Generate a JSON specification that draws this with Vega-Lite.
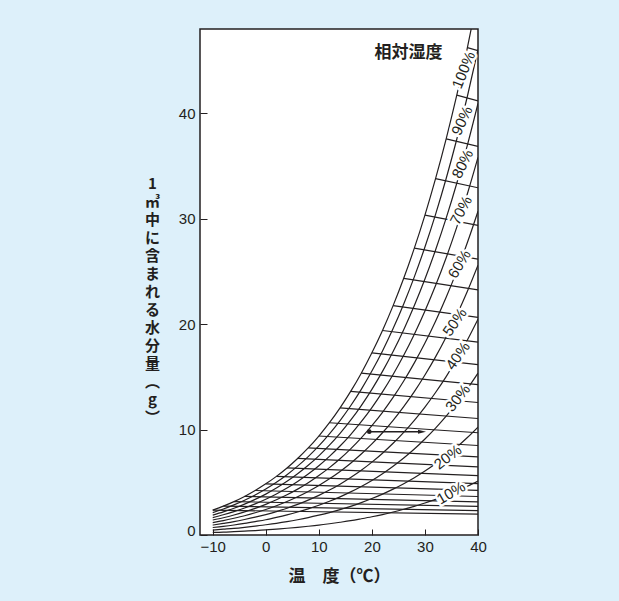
{
  "$schema": "https://vega.github.io/schema/vega-lite/v6.json",
  "width": 278,
  "height": 506,
  "autosize": {"type": "none"},
  "padding": {"left": 200, "top": 29, "right": 141, "bottom": 66},
  "background": "#ddf0fa",
  "view": {"fill": "white", "stroke": "#231f20", "strokeWidth": 1.5},
  "datasets": {
    "curves": [
      {"rh":10,"t":-10,"v":0.24},{"rh":10,"t":-8,"v":0.27},{"rh":10,"t":-6,"v":0.32},{"rh":10,"t":-4,"v":0.37},{"rh":10,"t":-2,"v":0.42},{"rh":10,"t":0,"v":0.48},{"rh":10,"t":2,"v":0.56},{"rh":10,"t":4,"v":0.64},{"rh":10,"t":6,"v":0.73},{"rh":10,"t":8,"v":0.83},{"rh":10,"t":10,"v":0.94},{"rh":10,"t":12,"v":1.07},{"rh":10,"t":14,"v":1.21},{"rh":10,"t":16,"v":1.36},{"rh":10,"t":18,"v":1.54},{"rh":10,"t":20,"v":1.73},{"rh":10,"t":22,"v":1.94},{"rh":10,"t":24,"v":2.18},{"rh":10,"t":26,"v":2.44},{"rh":10,"t":28,"v":2.72},{"rh":10,"t":30,"v":3.04},{"rh":10,"t":32,"v":3.38},{"rh":10,"t":34,"v":3.76},{"rh":10,"t":36,"v":4.17},{"rh":10,"t":38,"v":4.62},{"rh":10,"t":40,"v":5.12},
      {"rh":20,"t":-10,"v":0.47},{"rh":20,"t":-8,"v":0.55},{"rh":20,"t":-6,"v":0.63},{"rh":20,"t":-4,"v":0.73},{"rh":20,"t":-2,"v":0.84},{"rh":20,"t":0,"v":0.97},{"rh":20,"t":2,"v":1.11},{"rh":20,"t":4,"v":1.27},{"rh":20,"t":6,"v":1.45},{"rh":20,"t":8,"v":1.65},{"rh":20,"t":10,"v":1.88},{"rh":20,"t":12,"v":2.13},{"rh":20,"t":14,"v":2.41},{"rh":20,"t":16,"v":2.72},{"rh":20,"t":18,"v":3.07},{"rh":20,"t":20,"v":3.46},{"rh":20,"t":22,"v":3.88},{"rh":20,"t":24,"v":4.35},{"rh":20,"t":26,"v":4.87},{"rh":20,"t":28,"v":5.44},{"rh":20,"t":30,"v":6.07},{"rh":20,"t":32,"v":6.76},{"rh":20,"t":34,"v":7.52},{"rh":20,"t":36,"v":8.34},{"rh":20,"t":38,"v":9.25},{"rh":20,"t":40,"v":10.24},
      {"rh":30,"t":-10,"v":0.71},{"rh":30,"t":-8,"v":0.82},{"rh":30,"t":-6,"v":0.95},{"rh":30,"t":-4,"v":1.10},{"rh":30,"t":-2,"v":1.27},{"rh":30,"t":0,"v":1.45},{"rh":30,"t":2,"v":1.67},{"rh":30,"t":4,"v":1.91},{"rh":30,"t":6,"v":2.18},{"rh":30,"t":8,"v":2.48},{"rh":30,"t":10,"v":2.82},{"rh":30,"t":12,"v":3.20},{"rh":30,"t":14,"v":3.62},{"rh":30,"t":16,"v":4.09},{"rh":30,"t":18,"v":4.61},{"rh":30,"t":20,"v":5.18},{"rh":30,"t":22,"v":5.82},{"rh":30,"t":24,"v":6.53},{"rh":30,"t":26,"v":7.31},{"rh":30,"t":28,"v":8.16},{"rh":30,"t":30,"v":9.11},{"rh":30,"t":32,"v":10.14},{"rh":30,"t":34,"v":11.27},{"rh":30,"t":36,"v":12.51},{"rh":30,"t":38,"v":13.87},{"rh":30,"t":40,"v":15.35},
      {"rh":40,"t":-10,"v":0.94},{"rh":40,"t":-8,"v":1.10},{"rh":40,"t":-6,"v":1.27},{"rh":40,"t":-4,"v":1.47},{"rh":40,"t":-2,"v":1.69},{"rh":40,"t":0,"v":1.94},{"rh":40,"t":2,"v":2.22},{"rh":40,"t":4,"v":2.54},{"rh":40,"t":6,"v":2.90},{"rh":40,"t":8,"v":3.31},{"rh":40,"t":10,"v":3.76},{"rh":40,"t":12,"v":4.26},{"rh":40,"t":14,"v":4.82},{"rh":40,"t":16,"v":5.45},{"rh":40,"t":18,"v":6.14},{"rh":40,"t":20,"v":6.91},{"rh":40,"t":22,"v":7.76},{"rh":40,"t":24,"v":8.70},{"rh":40,"t":26,"v":9.74},{"rh":40,"t":28,"v":10.88},{"rh":40,"t":30,"v":12.14},{"rh":40,"t":32,"v":13.52},{"rh":40,"t":34,"v":15.03},{"rh":40,"t":36,"v":16.69},{"rh":40,"t":38,"v":18.50},{"rh":40,"t":40,"v":20.47},
      {"rh":50,"t":-10,"v":1.18},{"rh":50,"t":-8,"v":1.37},{"rh":50,"t":-6,"v":1.59},{"rh":50,"t":-4,"v":1.83},{"rh":50,"t":-2,"v":2.11},{"rh":50,"t":0,"v":2.42},{"rh":50,"t":2,"v":2.78},{"rh":50,"t":4,"v":3.18},{"rh":50,"t":6,"v":3.63},{"rh":50,"t":8,"v":4.13},{"rh":50,"t":10,"v":4.70},{"rh":50,"t":12,"v":5.33},{"rh":50,"t":14,"v":6.03},{"rh":50,"t":16,"v":6.81},{"rh":50,"t":18,"v":7.68},{"rh":50,"t":20,"v":8.64},{"rh":50,"t":22,"v":9.70},{"rh":50,"t":24,"v":10.88},{"rh":50,"t":26,"v":12.18},{"rh":50,"t":28,"v":13.60},{"rh":50,"t":30,"v":15.18},{"rh":50,"t":32,"v":16.90},{"rh":50,"t":34,"v":18.79},{"rh":50,"t":36,"v":20.86},{"rh":50,"t":38,"v":23.12},{"rh":50,"t":40,"v":25.59},
      {"rh":60,"t":-10,"v":1.42},{"rh":60,"t":-8,"v":1.64},{"rh":60,"t":-6,"v":1.90},{"rh":60,"t":-4,"v":2.20},{"rh":60,"t":-2,"v":2.53},{"rh":60,"t":0,"v":2.91},{"rh":60,"t":2,"v":3.34},{"rh":60,"t":4,"v":3.81},{"rh":60,"t":6,"v":4.35},{"rh":60,"t":8,"v":4.96},{"rh":60,"t":10,"v":5.64},{"rh":60,"t":12,"v":6.39},{"rh":60,"t":14,"v":7.23},{"rh":60,"t":16,"v":8.17},{"rh":60,"t":18,"v":9.21},{"rh":60,"t":20,"v":10.37},{"rh":60,"t":22,"v":11.64},{"rh":60,"t":24,"v":13.05},{"rh":60,"t":26,"v":14.61},{"rh":60,"t":28,"v":16.33},{"rh":60,"t":30,"v":18.21},{"rh":60,"t":32,"v":20.28},{"rh":60,"t":34,"v":22.55},{"rh":60,"t":36,"v":25.03},{"rh":60,"t":38,"v":27.74},{"rh":60,"t":40,"v":30.71},
      {"rh":70,"t":-10,"v":1.65},{"rh":70,"t":-8,"v":1.92},{"rh":70,"t":-6,"v":2.22},{"rh":70,"t":-4,"v":2.56},{"rh":70,"t":-2,"v":2.95},{"rh":70,"t":0,"v":3.39},{"rh":70,"t":2,"v":3.89},{"rh":70,"t":4,"v":4.45},{"rh":70,"t":6,"v":5.08},{"rh":70,"t":8,"v":5.78},{"rh":70,"t":10,"v":6.57},{"rh":70,"t":12,"v":7.46},{"rh":70,"t":14,"v":8.44},{"rh":70,"t":16,"v":9.53},{"rh":70,"t":18,"v":10.75},{"rh":70,"t":20,"v":12.09},{"rh":70,"t":22,"v":13.58},{"rh":70,"t":24,"v":15.23},{"rh":70,"t":26,"v":17.05},{"rh":70,"t":28,"v":19.05},{"rh":70,"t":30,"v":21.25},{"rh":70,"t":32,"v":23.66},{"rh":70,"t":34,"v":26.30},{"rh":70,"t":36,"v":29.20},{"rh":70,"t":38,"v":32.37},{"rh":70,"t":40,"v":35.82},
      {"rh":80,"t":-10,"v":1.89},{"rh":80,"t":-8,"v":2.19},{"rh":80,"t":-6,"v":2.54},{"rh":80,"t":-4,"v":2.93},{"rh":80,"t":-2,"v":3.38},{"rh":80,"t":0,"v":3.88},{"rh":80,"t":2,"v":4.45},{"rh":80,"t":4,"v":5.09},{"rh":80,"t":6,"v":5.81},{"rh":80,"t":8,"v":6.61},{"rh":80,"t":10,"v":7.51},{"rh":80,"t":12,"v":8.52},{"rh":80,"t":14,"v":9.64},{"rh":80,"t":16,"v":10.89},{"rh":80,"t":18,"v":12.28},{"rh":80,"t":20,"v":13.82},{"rh":80,"t":22,"v":15.52},{"rh":80,"t":24,"v":17.41},{"rh":80,"t":26,"v":19.48},{"rh":80,"t":28,"v":21.77},{"rh":80,"t":30,"v":24.28},{"rh":80,"t":32,"v":27.04},{"rh":80,"t":34,"v":30.06},{"rh":80,"t":36,"v":33.37},{"rh":80,"t":38,"v":36.99},{"rh":80,"t":40,"v":40.94},
      {"rh":90,"t":-10,"v":2.12},{"rh":90,"t":-8,"v":2.47},{"rh":90,"t":-6,"v":2.86},{"rh":90,"t":-4,"v":3.30},{"rh":90,"t":-2,"v":3.80},{"rh":90,"t":0,"v":4.36},{"rh":90,"t":2,"v":5.00},{"rh":90,"t":4,"v":5.72},{"rh":90,"t":6,"v":6.53},{"rh":90,"t":8,"v":7.44},{"rh":90,"t":10,"v":8.45},{"rh":90,"t":12,"v":9.59},{"rh":90,"t":14,"v":10.85},{"rh":90,"t":16,"v":12.26},{"rh":90,"t":18,"v":13.82},{"rh":90,"t":20,"v":15.55},{"rh":90,"t":22,"v":17.46},{"rh":90,"t":24,"v":19.58},{"rh":90,"t":26,"v":21.92},{"rh":90,"t":28,"v":24.49},{"rh":90,"t":30,"v":27.32},{"rh":90,"t":32,"v":30.42},{"rh":90,"t":34,"v":33.82},{"rh":90,"t":36,"v":37.54},{"rh":90,"t":38,"v":41.62},{"rh":90,"t":40,"v":46.06},
      {"rh":100,"t":-10,"v":2.36},{"rh":100,"t":-8,"v":2.74},{"rh":100,"t":-6,"v":3.17},{"rh":100,"t":-4,"v":3.66},{"rh":100,"t":-2,"v":4.22},{"rh":100,"t":0,"v":4.85},{"rh":100,"t":2,"v":5.56},{"rh":100,"t":4,"v":6.36},{"rh":100,"t":6,"v":7.26},{"rh":100,"t":8,"v":8.26},{"rh":100,"t":10,"v":9.39},{"rh":100,"t":12,"v":10.65},{"rh":100,"t":14,"v":12.06},{"rh":100,"t":16,"v":13.62},{"rh":100,"t":18,"v":15.35},{"rh":100,"t":20,"v":17.28},{"rh":100,"t":22,"v":19.40},{"rh":100,"t":24,"v":21.76},{"rh":100,"t":26,"v":24.35},{"rh":100,"t":28,"v":27.21},{"rh":100,"t":30,"v":30.35},{"rh":100,"t":32,"v":33.80},{"rh":100,"t":34,"v":37.58},{"rh":100,"t":36,"v":41.72},{"rh":100,"t":38,"v":46.24},{"rh":100,"t":40,"v":51.18}
    ],
    "dew": [
      {"td":-10,"t":-10,"v":2.36},{"td":-10,"t":40,"v":1.98},
      {"td":-8,"t":-8,"v":2.74},{"td":-8,"t":40,"v":2.32},
      {"td":-6,"t":-6,"v":3.17},{"td":-6,"t":40,"v":2.71},
      {"td":-4,"t":-4,"v":3.66},{"td":-4,"t":40,"v":3.15},
      {"td":-2,"t":-2,"v":4.22},{"td":-2,"t":40,"v":3.65},
      {"td":0,"t":0,"v":4.85},{"td":0,"t":40,"v":4.23},
      {"td":2,"t":2,"v":5.56},{"td":2,"t":40,"v":4.88},
      {"td":4,"t":4,"v":6.36},{"td":4,"t":40,"v":5.63},
      {"td":6,"t":6,"v":7.26},{"td":6,"t":40,"v":6.47},
      {"td":8,"t":8,"v":8.26},{"td":8,"t":40,"v":7.42},
      {"td":10,"t":10,"v":9.39},{"td":10,"t":40,"v":8.49},
      {"td":12,"t":12,"v":10.65},{"td":12,"t":40,"v":9.70},
      {"td":14,"t":14,"v":12.06},{"td":14,"t":40,"v":11.05},
      {"td":16,"t":16,"v":13.62},{"td":16,"t":40,"v":12.57},
      {"td":18,"t":18,"v":15.35},{"td":18,"t":40,"v":14.27},
      {"td":20,"t":20,"v":17.28},{"td":20,"t":40,"v":16.17},
      {"td":22,"t":22,"v":19.40},{"td":22,"t":40,"v":18.29},
      {"td":24,"t":24,"v":21.76},{"td":24,"t":40,"v":20.65},
      {"td":26,"t":26,"v":24.35},{"td":26,"t":40,"v":23.26},
      {"td":28,"t":28,"v":27.21},{"td":28,"t":40,"v":26.17},
      {"td":30,"t":30,"v":30.35},{"td":30,"t":40,"v":29.38},
      {"td":32,"t":32,"v":33.80},{"td":32,"t":40,"v":32.94},
      {"td":34,"t":34,"v":37.58},{"td":34,"t":40,"v":36.86},
      {"td":36,"t":36,"v":41.72},{"td":36,"t":40,"v":41.18},
      {"td":38,"t":38,"v":46.24},{"td":38,"t":40,"v":45.95}
    ],
    "arrow": [{"t":19.5,"v":9.8},{"t":29.2,"v":9.8}],
    "dot": [{"t":19.5,"v":9.8}],
    "head": [{"t":29.45,"v":9.8}],
    "labels": [
      {"label":"100%","rh":100,"t":37.3,"v":44.1},
      {"label":"90%","rh":90,"t":37.0,"v":39.3},
      {"label":"80%","rh":80,"t":37.1,"v":35.2},
      {"label":"70%","rh":70,"t":36.8,"v":30.8},
      {"label":"60%","rh":60,"t":36.5,"v":25.7},
      {"label":"50%","rh":50,"t":35.6,"v":20.2},
      {"label":"40%","rh":40,"t":36.2,"v":17.0},
      {"label":"30%","rh":30,"t":36.2,"v":13.0},
      {"label":"20%","rh":20,"t":34.3,"v":7.4},
      {"label":"10%","rh":10,"t":34.9,"v":4.0}
    ],
    "heading": [{"label":"相対湿度","t":26.9,"v":45.7}]
  },
  "encoding": {
    "x": {
      "field": "t", "type": "quantitative",
      "scale": {"domain": [-12.4, 40], "nice": false, "zero": false},
      "axis": {
        "values": [-10, 0, 10, 20, 30, 40],
        "title": "温　度（℃）",
        "grid": false, "domain": false,
        "tickSize": -6, "tickColor": "#231f20", "tickWidth": 1,
        "labelFont": "Liberation Sans", "labelFontSize": 15, "labelColor": "#231f20",
        "labelPadding": 10, "labelFlush": false, "labelOverlap": false,
        "titleFont": "Noto Sans CJK JP", "titleFontSize": 17, "titleFontWeight": "bold", "titleColor": "#231f20",
        "titleY": 41, "titleBaseline": "middle"
      }
    },
    "y": {
      "field": "v", "type": "quantitative",
      "scale": {"domain": [0, 48], "nice": false},
      "axis": {
        "values": [0, 10, 20, 30, 40],
        "title": ["1", "㎥", "中", "に", "含", "ま", "れ", "る", "水", "分", "量", "︵", "g", "︶"],
        "grid": false, "domain": false,
        "tickSize": -7, "tickColor": "#231f20", "tickWidth": 1,
        "labelFont": "Liberation Sans", "labelFontSize": 15, "labelColor": "#231f20",
        "labelPadding": 12, "labelFlush": false, "labelOverlap": false,
        "labelBaseline": {"expr": "datum.value == 0 ? 'alphabetic' : 'middle'"},
        "titleFont": "Noto Sans CJK JP", "titleFontSize": 15, "titleFontWeight": "bold", "titleColor": "#231f20",
        "titleAngle": 0, "titleAlign": "center", "titleBaseline": "middle",
        "titleLineHeight": 18, "titleX": -48, "titleY": 154
      }
    }
  },
  "layer": [
    {
      "data": {"name": "curves"},
      "mark": {"type": "line", "clip": true, "color": "#231f20", "strokeWidth": 1.2, "interpolate": "monotone"},
      "encoding": {"detail": {"field": "rh", "type": "nominal"}}
    },
    {
      "data": {"name": "dew"},
      "mark": {"type": "line", "clip": true, "color": "#231f20", "strokeWidth": 1.2},
      "encoding": {"detail": {"field": "td", "type": "nominal"}}
    },
    {
      "data": {"name": "arrow"},
      "mark": {"type": "line", "color": "#231f20", "strokeWidth": 1.4},
      "encoding": {}
    },
    {
      "data": {"name": "dot"},
      "mark": {"type": "point", "shape": "circle", "filled": true, "color": "#231f20", "size": 22, "opacity": 1},
      "encoding": {}
    },
    {
      "data": {"name": "head"},
      "mark": {"type": "point", "shape": "M-1,-0.5L1,0L-1,0.5Z", "filled": true, "color": "#231f20", "size": 64, "opacity": 1},
      "encoding": {}
    },
    {
      "data": {"name": "labels"},
      "mark": {"type": "text", "font": "Liberation Sans", "fontSize": 15, "stroke": "white", "strokeWidth": 5, "fill": "white", "align": "center", "baseline": "middle"},
      "encoding": {
        "text": {"field": "label"},
        "angle": {"field": "rh", "type": "quantitative", "scale": {"domain": [10, 20, 30, 40, 50, 60, 70, 80, 90, 100], "range": [-30, -38, -52, -55, -55, -59, -62, -64, -65, -68]}, "legend": null}
      }
    },
    {
      "data": {"name": "labels"},
      "mark": {"type": "text", "font": "Liberation Sans", "fontSize": 15, "fill": "#231f20", "align": "center", "baseline": "middle"},
      "encoding": {
        "text": {"field": "label"},
        "angle": {"field": "rh", "type": "quantitative", "scale": {"domain": [10, 20, 30, 40, 50, 60, 70, 80, 90, 100], "range": [-30, -38, -52, -55, -55, -59, -62, -64, -65, -68]}, "legend": null}
      }
    },
    {
      "data": {"name": "heading"},
      "mark": {"type": "text", "font": "Noto Sans CJK JP", "fontSize": 17, "fontWeight": "bold", "fill": "#231f20", "align": "center", "baseline": "middle"},
      "encoding": {"text": {"field": "label"}}
    }
  ]
}
